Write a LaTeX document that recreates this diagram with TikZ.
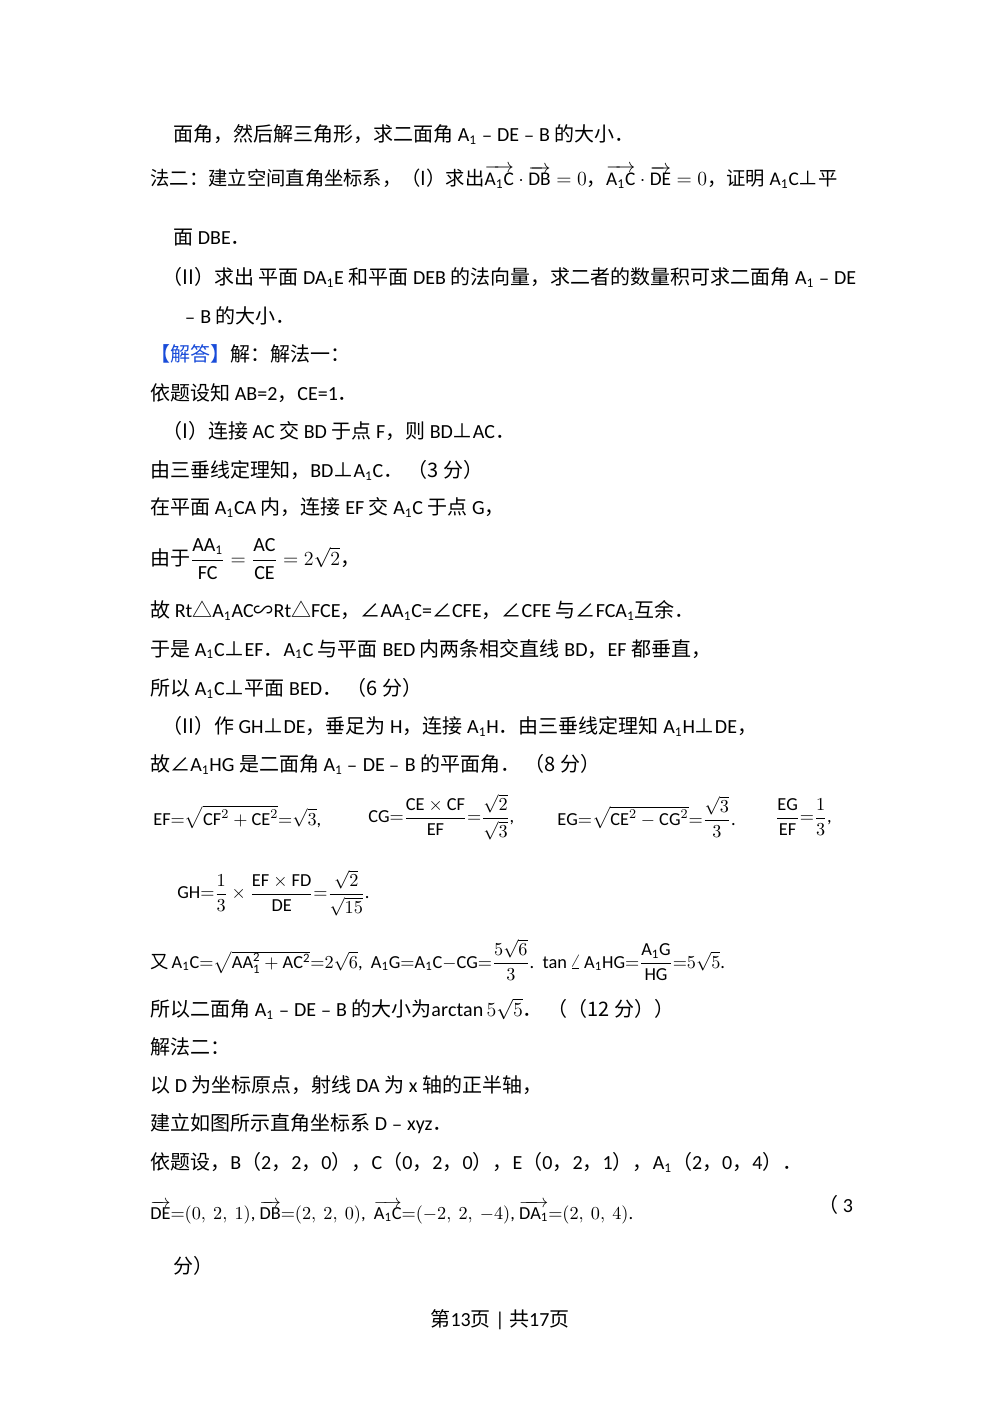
\documentclass[tikz,border=0pt]{standalone}
\usepackage{fontspec}
\usepackage{amsmath}
\setmainfont{Carlito}
\newfontfamily\cjk{Noto Sans CJK SC}
\newcommand{\zh}[1]{{\cjk #1}}
\newcommand{\pp}{{\cjk ⊥}}
\newcommand{\mi}{{\cjk ﹣}}
\newcommand{\dt}{{\cjk ．}}
\newcommand{\vv}[1]{\overrightarrow{\mathrm{#1}}}
\begin{document}
\begin{tikzpicture}[x=0.6pt,y=-0.6pt,
  ln/.style={anchor=west,inner sep=0pt,font=\fontsize{12}{14}\selectfont},
  fm/.style={anchor=west,inner sep=0pt,font=\fontsize{11}{13}\selectfont}]
\useasboundingbox (0,0) rectangle (1000,1414);
\node[ln] (l1) at (173,135) {\zh{面角，然后解三角形，求二面角} A\textsubscript{1}\mi DE\mi B \zh{的大小}\dt};
\node[ln,font=\fontsize{11.6}{14}\selectfont] (l2) at (150,177) {\zh{法二：建立空间直角坐标系，（I）求出}$\vv{A_1C}\cdot\vv{DB}=0$\zh{，}$\vv{A_1C}\cdot\vv{DE}=0$\zh{，证明} A\textsubscript{1}C\pp\zh{平}};
\node[ln] (l3) at (173,238) {\zh{面} DBE\dt};
\node[ln] (l4) at (162,277) {\zh{（II）求出 平面} DA\textsubscript{1}E \zh{和平面} DEB \zh{的法向量，求二者的数量积可求二面角} A\textsubscript{1}\mi DE};
\node[ln] (l5) at (180,316) {\mi B \zh{的大小}\dt};
\node[ln] (l6) at (150,354) {\zh{\textcolor[rgb]{0.1,0.3,0.85}{【解答】}解：解法一：}};
\node[ln] (l7) at (150,393) {\zh{依题设知} AB=2\zh{，}CE=1\dt};
\node[ln] (l8) at (162,431) {\zh{（I）连接} AC \zh{交} BD \zh{于点} F\zh{，则} BD\pp AC\dt};
\node[ln] (l9) at (150,470) {\zh{由三垂线定理知，}BD\pp A\textsubscript{1}C\dt\ \zh{（3 分）}};
\node[ln] (l10) at (150,508) {\zh{在平面} A\textsubscript{1}CA \zh{内，连接} EF \zh{交} A\textsubscript{1}C \zh{于点} G\zh{，}};
\node[ln] (l11) at (150,559) {\zh{由于}$\dfrac{\mathrm{AA_1}}{\mathrm{FC}}=\dfrac{\mathrm{AC}}{\mathrm{CE}}=2\sqrt{2}$\zh{，}};
\node[ln] (l12) at (150,610) {\zh{故} Rt\zh{△}A\textsubscript{1}AC\zh{∽}Rt\zh{△}FCE\zh{，∠}AA\textsubscript{1}C=\zh{∠}CFE\zh{，∠}CFE \zh{与∠}FCA\textsubscript{1}\zh{互余}\dt};
\node[ln] (l13) at (150,649) {\zh{于是} A\textsubscript{1}C\pp EF\dt A\textsubscript{1}C \zh{与平面} BED \zh{内两条相交直线} BD\zh{，}EF \zh{都垂直，}};
\node[ln] (l14) at (150,688) {\zh{所以} A\textsubscript{1}C\pp\zh{平面} BED\dt\ \zh{（6 分）}};
\node[ln] (l15) at (162,726) {\zh{（II）作} GH\pp DE\zh{，垂足为} H\zh{，连接} A\textsubscript{1}H\dt\zh{由三垂线定理知} A\textsubscript{1}H\pp DE\zh{，}};
\node[ln] (l16) at (150,764) {\zh{故∠}A\textsubscript{1}HG \zh{是二面角} A\textsubscript{1}\mi DE\mi B \zh{的平面角}\dt\ \zh{（8 分）}};
\node[fm] (f1) at (153,817) {$\mathrm{EF}{=}\sqrt{\mathrm{CF}^2+\mathrm{CE}^2}{=}\sqrt{3}$,};
\node[fm] (f2) at (368,817) {$\mathrm{CG}{=}\dfrac{\mathrm{CE}\times\mathrm{CF}}{\mathrm{EF}}{=}\dfrac{\sqrt2}{\sqrt3}$,};
\node[fm] (f3) at (557,817) {$\mathrm{EG}{=}\sqrt{\mathrm{CE}^2-\mathrm{CG}^2}{=}\dfrac{\sqrt3}{3}$.};
\node[fm] (f4) at (775,817) {$\dfrac{\mathrm{EG}}{\mathrm{EF}}{=}\dfrac13$,};
\node[fm] (f5) at (177,893) {$\mathrm{GH}{=}\dfrac13\times\dfrac{\mathrm{EF}\times\mathrm{FD}}{\mathrm{DE}}{=}\dfrac{\sqrt2}{\sqrt{15}}$.};
\node[fm] (f6) at (150,960) {\zh{又}\,$\mathrm{A_1C}{=}\sqrt{\mathrm{AA_1^2+AC^2}}{=}2\sqrt6$,\ \ $\mathrm{A_1G}{=}\mathrm{A_1C}{-}\mathrm{CG}{=}\dfrac{5\sqrt6}{3}$.\ \ $\tan\angle\,\mathrm{A_1HG}{=}\dfrac{\mathrm{A_1G}}{\mathrm{HG}}{=}5\sqrt5$.};
\node[ln] (l17) at (150,1009) {\zh{所以二面角} A\textsubscript{1}\mi DE\mi B \zh{的大小为}$\arctan5\sqrt5$\dt\ \zh{（（12 分））}};
\node[ln] (l18) at (150,1047) {\zh{解法二：}};
\node[ln] (l19) at (150,1085) {\zh{以} D \zh{为坐标原点，射线} DA \zh{为} x \zh{轴的正半轴，}};
\node[ln] (l20) at (150,1124) {\zh{建立如图所示直角坐标系} D\mi xyz\dt};
\node[ln] (l21) at (150,1162) {\zh{依题设，}B\zh{（}2\zh{，}2\zh{，}0\zh{），}C\zh{（}0\zh{，}2\zh{，}0\zh{），}E\zh{（}0\zh{，}2\zh{，}1\zh{），}A\textsubscript{1}\zh{（}2\zh{，}0\zh{，}4\zh{）．}};
\node[fm] (f7) at (150,1212) {$\vv{DE}{=}(0,\ 2,\ 1)$,\ $\vv{DB}{=}(2,\ 2,\ 0)$,\ \ $\vv{A_1C}{=}({-}2,\ 2,\ {-}4)$,\ $\vv{DA_1}{=}(2,\ 0,\ 4)$.};
\node[ln] (l22) at (818,1205) {\zh{（}\ 3};
\node[ln] (l23) at (173,1266) {\zh{分）}};
\node[ln,anchor=center] (pg) at (500,1320) {\zh{第}13\zh{页} | \zh{共}17\zh{页}};
\end{tikzpicture}
\end{document}
